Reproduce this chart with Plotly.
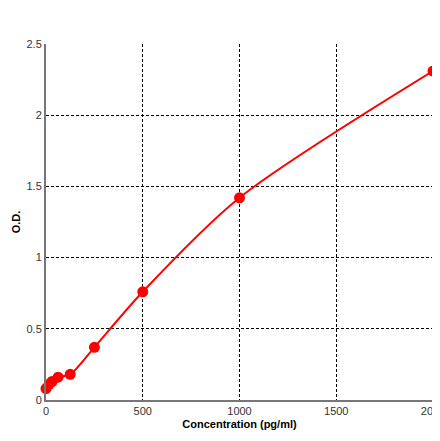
import plotly.graph_objects as go

# standard curve data
conc = [0, 15.6, 31.25, 62.5, 125, 250, 500, 1000, 2000]
od = [0.08, 0.11, 0.13, 0.16, 0.18, 0.37, 0.76, 1.42, 2.31]

x_ticks = [0, 500, 1000, 1500, 2000]
y_ticks = [0, 0.5, 1, 1.5, 2, 2.5]

fig = go.Figure()
fig.add_trace(go.Scatter(
    x=conc, y=od, mode='lines+markers',
    line=dict(color='#ff0000', width=2, shape='spline', smoothing=0.8),
    marker=dict(color='#ff0000', size=11, symbol='circle'),
    showlegend=False, cliponaxis=False))

axis_common = dict(
    showgrid=True, gridcolor='black', griddash='3px,2px', gridwidth=1,
    showline=True, linecolor='#777777', linewidth=2, mirror=False,
    zeroline=False, ticks='', automargin=False,
    tickfont=dict(family='Arial', size=11, color='#333333'))

fig.update_layout(
    width=440, height=441,
    margin=dict(l=38, r=15, t=36, b=49),
    paper_bgcolor='white', plot_bgcolor='white',
    xaxis=dict(range=[0, 2000], tickvals=x_ticks, ticktext=[str(v) for v in x_ticks],
               title=dict(text='<b>Concentration (pg/ml)</b>', font=dict(family='Arial', size=11, color='black'),
                          standoff=4), **axis_common),
    yaxis=dict(range=[0, 2.5], tickvals=y_ticks, ticktext=['0', '0.5', '1', '1.5', '2', '2.5'],
               title=dict(text='<b>O.D.</b>', font=dict(family='Arial', size=11, color='black'),
                          standoff=4), **axis_common),
)

fig.write_html("out.html")
